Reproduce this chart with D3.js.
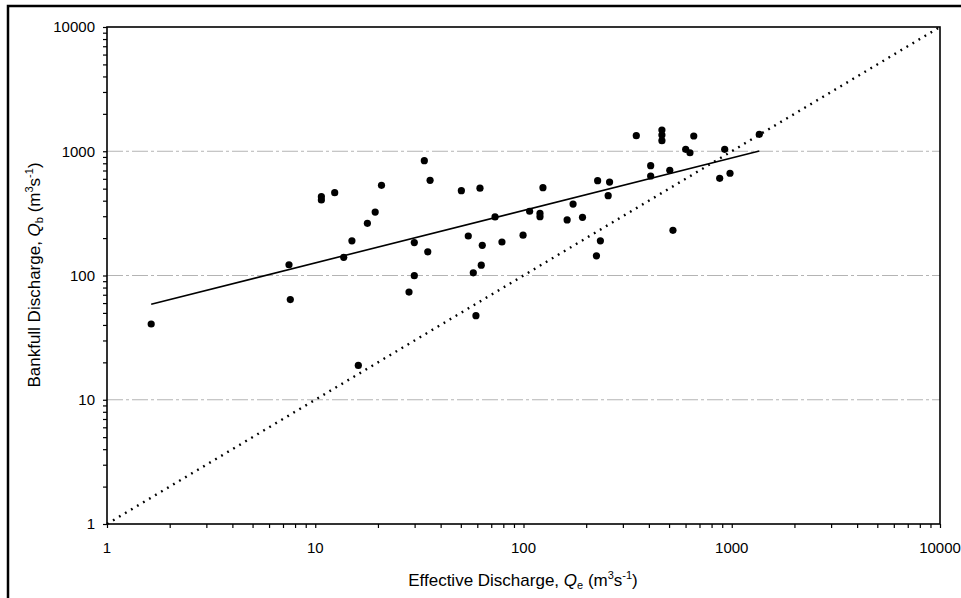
<!DOCTYPE html>
<html>
<head>
<meta charset="utf-8">
<script src="https://cdn.jsdelivr.net/npm/d3@7"></script>
<style>
  html, body { margin: 0; padding: 0; background: #fff; }
  svg { display: block; font-family: "Liberation Sans", Arial, sans-serif; }
</style>
</head>
<body>
<svg id="chart" width="961" height="598"></svg>
<script>
// Effective discharge Qe (m3/s)
const effectiveQ = [1.63, 7.48, 7.59, 10.7, 10.7, 12.4, 13.7, 15.0, 16.1, 17.8, 19.4, 20.8,
  28.2, 29.9, 29.9, 33.4, 34.7, 35.6, 50.3, 54.3, 57.4, 59.1, 61.8, 62.7, 63.4, 73, 78.8,
  99.5, 107, 120, 120, 124, 162, 173, 192, 224, 227, 234, 255, 259, 348, 408, 408,
  462, 462, 462, 504, 522, 601, 630, 657, 875, 925, 981, 1356];
// Bankfull discharge Qb (m3/s)
const bankfullQ = [40.7, 122, 64, 431, 405, 464, 140, 190, 18.9, 263, 324, 532,
  73.6, 184, 99.6, 839, 155, 583, 482, 208, 105, 47.5, 504, 121, 175, 296, 186,
  211, 329, 316, 297, 509, 280, 376, 294, 144, 580, 190, 439, 565, 1334, 765, 632,
  1483, 1352, 1217, 703, 231, 1037, 973, 1327, 606, 1037, 665, 1368];
// Fitted power-law line endpoints
const fitX = [1.63, 1356];
const fitY = [58.7, 1005];
// 1:1 line endpoints
const oneToOne = [1, 10000];
// Tick labels
const xTicks = [1, 10, 100, 1000, 10000];
const yTicks = [1, 10, 100, 1000, 10000];
const gridValues = [10, 100, 1000];

const svg = d3.select("#chart");
const pLeft = 107, pRight = 940, pTop = 27, pBottom = 524;

const x = d3.scaleLog().domain([1, 10000]).range([pLeft, pRight]);
const y = d3.scaleLog().domain([1, 10000]).range([pBottom, pTop]);

// Outer frame
svg.append("path")
  .attr("d", `M8,${598 + 5} L8,6 L970,6`)
  .attr("fill", "none").attr("stroke", "#000").attr("stroke-width", 2.5);

// Gridlines
svg.append("g").selectAll("line").data(gridValues).join("line")
  .attr("x1", pLeft).attr("x2", pRight)
  .attr("y1", d => y(d)).attr("y2", d => y(d))
  .attr("stroke", "#b4b4b4").attr("stroke-width", 1)
  .attr("stroke-dasharray", "16,3,3,3");

// Minor/major ticks
const minorVals = [];
for (let e = 0; e < 4; e++) for (let m = 1; m <= 9; m++) minorVals.push(m * Math.pow(10, e));
minorVals.push(10000);

const yAxis = d3.axisLeft(y).tickValues(minorVals).tickSize(4).tickFormat("");
svg.append("g").attr("transform", `translate(${pLeft},0)`).call(yAxis)
  .call(g => g.select(".domain").remove())
  .selectAll("line").attr("stroke", "#000").attr("stroke-width", 1.2);

const xAxis = d3.axisBottom(x).tickValues(minorVals).tickSize(4).tickFormat("");
svg.append("g").attr("transform", `translate(0,${pBottom})`).call(xAxis)
  .call(g => g.select(".domain").remove())
  .selectAll("line").attr("stroke", "#000").attr("stroke-width", 1.2);

// Plot box
svg.append("rect")
  .attr("x", pLeft).attr("y", pTop)
  .attr("width", pRight - pLeft).attr("height", pBottom - pTop)
  .attr("fill", "none").attr("stroke", "#000").attr("stroke-width", 1.6);

// Tick labels
svg.append("g").selectAll("text").data(yTicks).join("text")
  .attr("x", 95).attr("y", d => y(d)).attr("dy", "0.36em")
  .attr("text-anchor", "end").attr("font-size", 15).text(d => d);

svg.append("g").selectAll("text").data(xTicks).join("text")
  .attr("x", d => x(d)).attr("y", 553)
  .attr("text-anchor", "middle").attr("font-size", 15).text(d => d);

// 1:1 dotted line
svg.append("line")
  .attr("x1", x(oneToOne[0])).attr("y1", y(oneToOne[0]))
  .attr("x2", x(oneToOne[1])).attr("y2", y(oneToOne[1]))
  .attr("stroke", "#000").attr("stroke-width", 2.4)
  .attr("stroke-dasharray", "1.8,5.2").attr("stroke-linecap", "butt");

// Fitted line
svg.append("line")
  .attr("x1", x(fitX[0])).attr("y1", y(fitY[0]))
  .attr("x2", x(fitX[1])).attr("y2", y(fitY[1]))
  .attr("stroke", "#000").attr("stroke-width", 1.6);

// Points
svg.append("g").selectAll("circle").data(effectiveQ).join("circle")
  .attr("cx", d => x(d)).attr("cy", (d, i) => y(bankfullQ[i]))
  .attr("r", 3.6).attr("fill", "#000");

// Axis titles
const xt = svg.append("text").attr("x", 523).attr("y", 586)
  .attr("text-anchor", "middle").attr("font-size", 17);
xt.append("tspan").text("Effective Discharge, ");
xt.append("tspan").attr("font-style", "italic").text("Q");
xt.append("tspan").attr("font-size", 11).attr("dy", 3).text("e");
xt.append("tspan").attr("dy", -3).text(" (m");
xt.append("tspan").attr("font-size", 11).attr("dy", -7).text("3");
xt.append("tspan").attr("dy", 7).text("s");
xt.append("tspan").attr("font-size", 11).attr("dy", -7).text("-1");
xt.append("tspan").attr("dy", 7).text(")");

const yt = svg.append("text")
  .attr("transform", `translate(40,275) rotate(-90)`)
  .attr("text-anchor", "middle").attr("font-size", 17);
yt.append("tspan").text("Bankfull Discharge, ");
yt.append("tspan").attr("font-style", "italic").text("Q");
yt.append("tspan").attr("font-size", 11).attr("dy", 3).text("b");
yt.append("tspan").attr("dy", -3).text(" (m");
yt.append("tspan").attr("font-size", 11).attr("dy", -7).text("3");
yt.append("tspan").attr("dy", 7).text("s");
yt.append("tspan").attr("font-size", 11).attr("dy", -7).text("-1");
yt.append("tspan").attr("dy", 7).text(")");
</script>
</body>
</html>
